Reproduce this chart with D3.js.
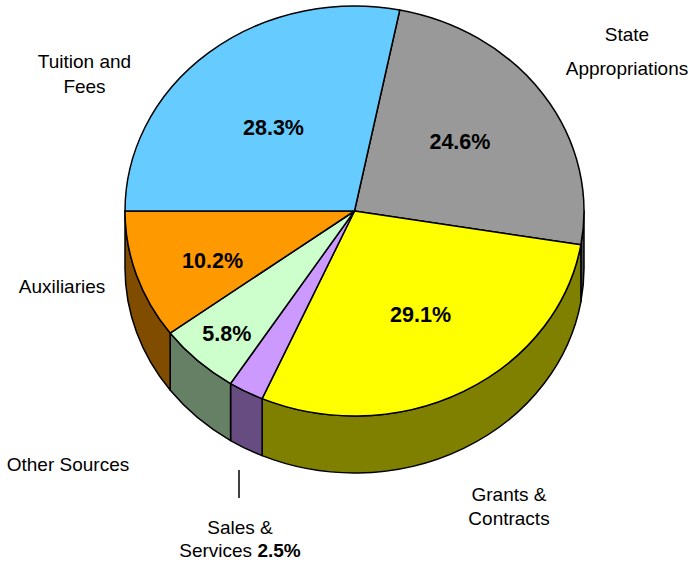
<!DOCTYPE html>
<html>
<head>
<meta charset="utf-8">
<script src="https://cdn.jsdelivr.net/npm/d3@7"></script>
<style>
  html, body { margin: 0; padding: 0; background: #fff; }
  svg { display: block; }
  text { font-family: Arial, "Liberation Sans", sans-serif; fill: #000; }
</style>
</head>
<body>
<svg id="chart" width="694" height="571"></svg>
<script>
// ---- data ----
const categories = ["Tuition and Fees", "State Appropriations", "Grants & Contracts", "Sales & Services", "Other Sources", "Auxiliaries"];
const values = [28.3, 24.6, 29.1, 2.5, 5.8, 10.2];
const topColors = ["#66CCFF", "#999999", "#FFFF00", "#CC99FF", "#CCFFCC", "#FF9900"];
const sideColors = ["#336680", "#4C4C4C", "#808000", "#664C80", "#668066", "#804C00"];

// ---- layout ----
const W = 694, H = 571;
const cx = 354.5, cy = 211, rx = 229.5, ry = 205, depth = 57;

const svg = d3.select("#chart");
svg.append("rect").attr("width", W).attr("height", H).attr("fill", "#fff");

// each slice spans value% of the full turn (percentages are rounded, sum 100.5)
const a0 = -Math.PI / 2;
const pie = d3.pie().sort(null).value(d => d)
  .startAngle(a0).endAngle(a0 + 2 * Math.PI * d3.sum(values) / 100);
const arcs = pie(values);

function P(a, dy) {
  return [cx + rx * Math.sin(a), cy - ry * Math.cos(a) + (dy || 0)];
}

function topPath(s, e) {
  const p0 = P(s), p1 = P(e);
  const large = (e - s) > Math.PI ? 1 : 0;
  return `M${cx},${cy}L${p0[0]},${p0[1]}A${rx},${ry} 0 ${large} 1 ${p1[0]},${p1[1]}Z`;
}

function sidePath(s0, e0) {
  const s = Math.max(s0, Math.PI / 2), e = Math.min(e0, 3 * Math.PI / 2);
  if (e <= s) return null;
  const p0 = P(s), p1 = P(e), q1 = P(e, depth), q0 = P(s, depth);
  const large = (e - s) > Math.PI ? 1 : 0;
  return `M${p0[0]},${p0[1]}A${rx},${ry} 0 ${large} 1 ${p1[0]},${p1[1]}` +
         `L${q1[0]},${q1[1]}A${rx},${ry} 0 ${large} 0 ${q0[0]},${q0[1]}Z`;
}

// side walls
const gSide = svg.append("g");
arcs.forEach((d, i) => {
  const p = sidePath(d.startAngle, d.endAngle);
  if (p) gSide.append("path").attr("d", p)
    .attr("fill", sideColors[i]).attr("stroke", "#000")
    .attr("stroke-width", 1.5).attr("stroke-linejoin", "round");
});

// top faces (first slice drawn last so its edge stays on top)
const gTop = svg.append("g");
const order = d3.range(1, arcs.length).concat([0]);
order.forEach(i => {
  const d = arcs[i];
  gTop.append("path").attr("d", topPath(d.startAngle, d.endAngle))
    .attr("fill", topColors[i]).attr("stroke", "#000")
    .attr("stroke-width", 1.5).attr("stroke-linejoin", "round");
});

// percentage labels inside slices: [radius fraction, angle nudge in degrees]
const labelPlace = [[0.54, -1.5], [0.572, -2], [0.58, -1.35], null, [0.815, 0], [0.664, -3.1]];
const gPct = svg.append("g");
arcs.forEach((d, i) => {
  const lp = labelPlace[i];
  if (!lp) return;
  const mid = (d.startAngle + d.endAngle) / 2 + lp[1] * Math.PI / 180;
  const x = cx + rx * lp[0] * Math.sin(mid);
  const y = cy - ry * lp[0] * Math.cos(mid);
  gPct.append("text")
    .attr("x", x).attr("y", y + 7.8)
    .attr("text-anchor", "middle")
    .attr("font-size", "21.5px").attr("font-weight", "bold")
    .text(values[i].toFixed(1) + "%");
});

// category labels (outside)
const catLines = [
  ["Tuition and", "Fees"],
  ["State", "Appropriations"],
  ["Grants &", "Contracts"],
  ["Sales &", "Services "],
  ["Other Sources"],
  ["Auxiliaries"]
];
const catPos = [
  {x: 84.5, y: 68, lh: 25},
  {x: 627, y: 41, lh: 34},
  {x: 509, y: 501, lh: 24},
  {x: 240, y: 534, lh: 23},
  {x: 68, y: 471, lh: 24},
  {x: 62, y: 293, lh: 24}
];
const gCat = svg.append("g");
catLines.forEach((lines, i) => {
  const t = gCat.append("text")
    .attr("text-anchor", "middle")
    .attr("font-size", "19px");
  lines.forEach((ln, j) => {
    t.append("tspan").attr("x", catPos[i].x)
      .attr("y", catPos[i].y + j * catPos[i].lh).text(ln);
    if (i === 3 && j === 1) {
      t.append("tspan").attr("font-weight", "bold")
        .text(values[i].toFixed(1) + "%");
    }
  });
});

// leader line for Sales & Services
svg.append("line").attr("x1", 239).attr("x2", 239)
  .attr("y1", 470).attr("y2", 498)
  .attr("stroke", "#000").attr("stroke-width", 1.5);
</script>
</body>
</html>
